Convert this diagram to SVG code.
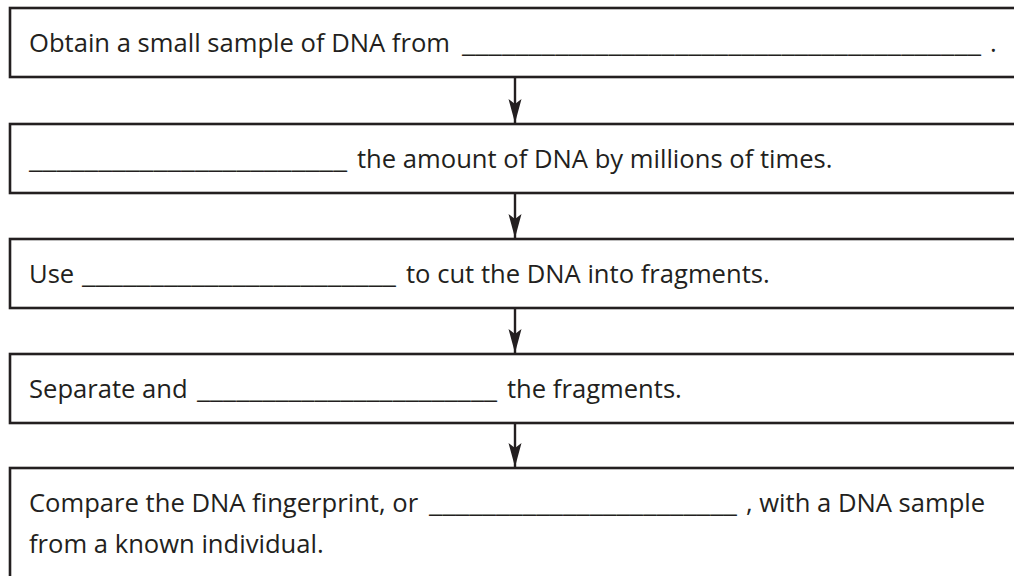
<svg xmlns="http://www.w3.org/2000/svg" width="1014" height="576" viewBox="0 0 1014 576">
<style>
.box{fill:#ffffff;stroke:#231f20;stroke-width:2.6}
.t{font-family:"Open Sans","Noto Sans","Liberation Sans",sans-serif;font-size:25.6px;fill:#231f20}
.c{stroke:#231f20;stroke-width:2.4;fill:none}
</style>
<defs>
<marker id="ah" markerUnits="userSpaceOnUse" markerWidth="26" markerHeight="14" viewBox="0 0 26 14" refX="25" refY="7" orient="auto">
<path d="M25,7 L1,0.5 L6,7 L1,13.5 Z" fill="#231f20"/>
</marker>
</defs>
<rect width="1014" height="576" fill="#ffffff"/>
<g id="step1">
<rect class="box" x="10" y="8" width="1020" height="69"/>
<text class="t" x="29" y="52">Obtain a small sample of DNA from</text>
<text class="t" x="462" y="52" textLength="519" lengthAdjust="spacingAndGlyphs">_______________________________________</text>
<text class="t" x="990" y="52">.</text>
</g>
<g id="step2">
<rect class="box" x="10" y="124" width="1020" height="69"/>
<text class="t" x="29" y="168" textLength="318" lengthAdjust="spacingAndGlyphs">_______________________</text>
<text class="t" x="357" y="168">the amount of DNA by millions of times.</text>
</g>
<g id="step3">
<rect class="box" x="10" y="239" width="1020" height="69"/>
<text class="t" x="29" y="283">Use</text>
<text class="t" x="82" y="283" textLength="314" lengthAdjust="spacingAndGlyphs">_______________________</text>
<text class="t" x="406" y="283">to cut the DNA into fragments.</text>
</g>
<g id="step4">
<rect class="box" x="10" y="354" width="1020" height="69"/>
<text class="t" x="29" y="398">Separate and</text>
<text class="t" x="197" y="398" textLength="300" lengthAdjust="spacingAndGlyphs">_______________________</text>
<text class="t" x="507" y="398">the fragments.</text>
</g>
<g id="step5">
<rect class="box" x="10" y="468" width="1020" height="130"/>
<text class="t" x="29" y="512">Compare the DNA fingerprint, or</text>
<text class="t" x="429" y="512" textLength="308" lengthAdjust="spacingAndGlyphs">_______________________</text>
<text class="t" x="746" y="512">, with a DNA sample</text>
<text class="t" x="29" y="553">from a known individual.</text>
</g>
<g id="connectors">
<line class="c" x1="515" y1="77" x2="515" y2="123" marker-end="url(#ah)"/>
<line class="c" x1="515" y1="193" x2="515" y2="238" marker-end="url(#ah)"/>
<line class="c" x1="515" y1="308" x2="515" y2="353" marker-end="url(#ah)"/>
<line class="c" x1="515" y1="423" x2="515" y2="467" marker-end="url(#ah)"/>
</g>
</svg>
